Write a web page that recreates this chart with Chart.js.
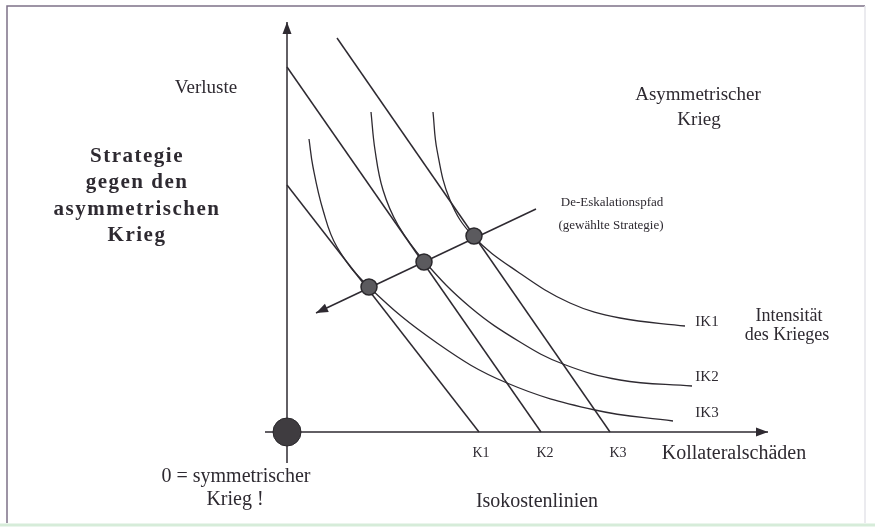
<!DOCTYPE html>
<html lang="de">
<head>
<meta charset="utf-8">
<title>Strategie gegen den asymmetrischen Krieg</title>
<script src="https://cdn.jsdelivr.net/npm/chart.js@4.4.1/dist/chart.umd.min.js"></script>
<style>
  html, body { margin: 0; padding: 0; background: #fff; }
  #wrap { width: 875px; height: 527px; position: relative; }
</style>
</head>
<body>
<div id="wrap"><canvas id="chart" width="875" height="527"></canvas></div>
<script>
/* ── Indifferenzkurven (Intensität des Krieges) ── */
const IK1_X = [3.65, 3.75, 4.075, 4.65, 5.775, 7.075, 8.325, 9.95];
const IK1_Y = [8.0, 7.05, 5.8, 4.9, 4.0, 3.225, 2.85, 2.65];
const IK2_X = [2.1, 2.2, 2.4, 2.775, 3.45, 4.575, 5.825, 6.9, 8.325, 10.125];
const IK2_Y = [8.0, 7.05, 6.05, 5.175, 4.25, 3.125, 2.25, 1.7, 1.3, 1.15];
const IK3_X = [0.55, 0.65, 0.9, 1.25, 2.05, 3.75, 5.5, 7.7, 9.65];
const IK3_Y = [7.325, 6.625, 5.55, 4.625, 3.625, 2.225, 1.225, 0.55, 0.275];

/* ── Isokostenlinien K1..K3 (Anfang oben, Ende auf der x-Achse) ── */
const ISO_NAMES = ['K1', 'K2', 'K3'];
const ISO_X0 = [0, 0, 1.25];
const ISO_Y0 = [6.175, 9.125, 9.85];
const ISO_X1 = [4.8, 6.35, 8.075];

/* ── De-Eskalationspfad + gewählte Punkte ── */
const PATH_X = [6.225, 0.725];
const PATH_Y = [5.575, 2.975];
const OPT_X = [2.05, 3.425, 4.675];
const OPT_Y = [3.625, 4.25, 4.9];

/* ── Achsen ── */
const AXIS_X = [-0.55, 12.025];
const AXIS_Y = [-0.775, 10.25];

const pts = (xs, ys) => xs.map((x, i) => ({ x, y: ys[i] }));

const INK = '#2e2a31';
const SERIF = '"Liberation Serif", "DejaVu Serif", serif';

/* Beschriftungen (Datenkoordinaten) */
const labels = [
  { t: 'Verluste', x: -2.025, y: 8.6, size: 19 },
  { t: 'Strategie', x: -3.75, y: 6.875, size: 21, bold: true },
  { t: 'gegen den', x: -3.75, y: 6.225, size: 21, bold: true },
  { t: 'asymmetrischen', x: -3.75, y: 5.55, size: 21, bold: true },
  { t: 'Krieg', x: -3.75, y: 4.9, size: 21, bold: true },
  { t: 'Asymmetrischer', x: 10.275, y: 8.425, size: 19 },
  { t: 'Krieg', x: 10.3, y: 7.8, size: 19 },
  { t: 'De-Eskalationspfad', x: 8.125, y: 5.725, size: 13 },
  { t: '(gewählte Strategie)', x: 8.1, y: 5.15, size: 13 },
  { t: 'IK1', x: 10.5, y: 2.75, size: 15 },
  { t: 'IK2', x: 10.5, y: 1.375, size: 15 },
  { t: 'IK3', x: 10.5, y: 0.475, size: 15 },
  { t: 'Intensität', x: 12.55, y: 2.9, size: 18 },
  { t: 'des Krieges', x: 12.5, y: 2.425, size: 18 },
  { t: 'Kollateralschäden', x: 11.175, y: -0.55, size: 20 },
  { t: 'K1', x: 4.85, y: -0.525, size: 14 },
  { t: 'K2', x: 6.45, y: -0.525, size: 14 },
  { t: 'K3', x: 8.275, y: -0.525, size: 14 },
  { t: 'Isokostenlinien', x: 6.25, y: -1.75, size: 20 },
  { t: '0 = symmetrischer', x: -1.275, y: -1.125, size: 20 },
  { t: 'Krieg !', x: -1.3, y: -1.7, size: 20 },
];

/* Rahmen + Texte */
const decorPlugin = {
  id: 'decor',
  beforeDraw(chart) {
    const { ctx, width, height } = chart;
    ctx.save();
    ctx.fillStyle = '#fff';
    ctx.fillRect(0, 0, width, height);
    ctx.strokeStyle = '#7d7288';
    ctx.lineWidth = 1.5;
    ctx.beginPath();
    ctx.moveTo(7, height - 4);
    ctx.lineTo(7, 6);
    ctx.lineTo(width - 10, 6);
    ctx.stroke();
    ctx.strokeStyle = '#e4e4ea';
    ctx.beginPath();
    ctx.moveTo(width - 10, 6);
    ctx.lineTo(width - 10, height - 4);
    ctx.stroke();
    ctx.strokeStyle = '#d6ecd9';
    ctx.lineWidth = 3;
    ctx.beginPath();
    ctx.moveTo(0, height - 2);
    ctx.lineTo(width, height - 2);
    ctx.stroke();
    ctx.restore();
  },
  afterDraw(chart) {
    const { ctx, scales: { x, y } } = chart;
    ctx.save();
    ctx.fillStyle = INK;
    ctx.textAlign = 'center';
    ctx.textBaseline = 'middle';
    labels.forEach(l => {
      ctx.font = `${l.bold ? 'bold ' : ''}${l.size}px ${SERIF}`;
      ctx.letterSpacing = l.bold ? '1.5px' : '0px';
      ctx.fillText(l.t, x.getPixelForValue(l.x), y.getPixelForValue(l.y));
    });
    ctx.restore();
  }
};

/* Pfeilspitzen am letzten Punkt der markierten Datensätze */
const arrowPlugin = {
  id: 'arrows',
  afterDatasetsDraw(chart) {
    const { ctx } = chart;
    chart.data.datasets.forEach((ds, i) => {
      if (!ds.arrow) return;
      const pts = chart.getDatasetMeta(i).data;
      const a = pts[pts.length - 2], b = pts[pts.length - 1];
      const ang = Math.atan2(b.y - a.y, b.x - a.x);
      const len = 12, half = 4.5;
      ctx.save();
      ctx.fillStyle = INK;
      ctx.translate(b.x, b.y);
      ctx.rotate(ang);
      ctx.beginPath();
      ctx.moveTo(0, 0);
      ctx.lineTo(-len, -half);
      ctx.lineTo(-len, half);
      ctx.closePath();
      ctx.fill();
      ctx.restore();
    });
  }
};

const lineDs = (data, extra = {}) => Object.assign({
  data,
  showLine: true,
  borderColor: INK,
  borderWidth: 1.5,
  pointRadius: 0,
  fill: false,
  order: 5,
}, extra);

const datasets = [
  // gewählte Strategie-Punkte
  { data: pts(OPT_X, OPT_Y), pointRadius: 8, pointBackgroundColor: '#5b5a5e', pointBorderColor: '#2a282c', pointBorderWidth: 1.5, showLine: false, order: 0 },
  // Ursprung
  { data: [{ x: 0, y: 0 }], pointRadius: 14, pointBackgroundColor: '#3f3c40', pointBorderColor: '#2a282c', pointBorderWidth: 1, showLine: false, order: 0 },
  // Achsen
  lineDs([{ x: 0, y: AXIS_Y[0] }, { x: 0, y: AXIS_Y[1] }], { arrow: true }),
  lineDs([{ x: AXIS_X[0], y: 0 }, { x: AXIS_X[1], y: 0 }], { arrow: true }),
  // De-Eskalationspfad
  lineDs(pts(PATH_X, PATH_Y), { arrow: true }),
  // Indifferenzkurven
  lineDs(pts(IK1_X, IK1_Y), { tension: 0.4, borderWidth: 1.3, label: 'IK1' }),
  lineDs(pts(IK2_X, IK2_Y), { tension: 0.4, borderWidth: 1.3, label: 'IK2' }),
  lineDs(pts(IK3_X, IK3_Y), { tension: 0.4, borderWidth: 1.3, label: 'IK3' }),
  // Isokostenlinien
  ...ISO_NAMES.map((n, i) => lineDs([{ x: ISO_X0[i], y: ISO_Y0[i] }, { x: ISO_X1[i], y: 0 }], { label: n })),
];

new Chart(document.getElementById('chart'), {
  type: 'scatter',
  data: { datasets },
  options: {
    responsive: false,
    animation: false,
    layout: { padding: 0, autoPadding: false },
    plugins: { legend: { display: false }, tooltip: { enabled: false } },
    scales: {
      x: { type: 'linear', display: false, min: -7.175, max: 14.7 },
      y: { type: 'linear', display: false, min: -2.375, max: 10.8 },
    },
  },
  plugins: [decorPlugin, arrowPlugin],
});
</script>
</body>
</html>
